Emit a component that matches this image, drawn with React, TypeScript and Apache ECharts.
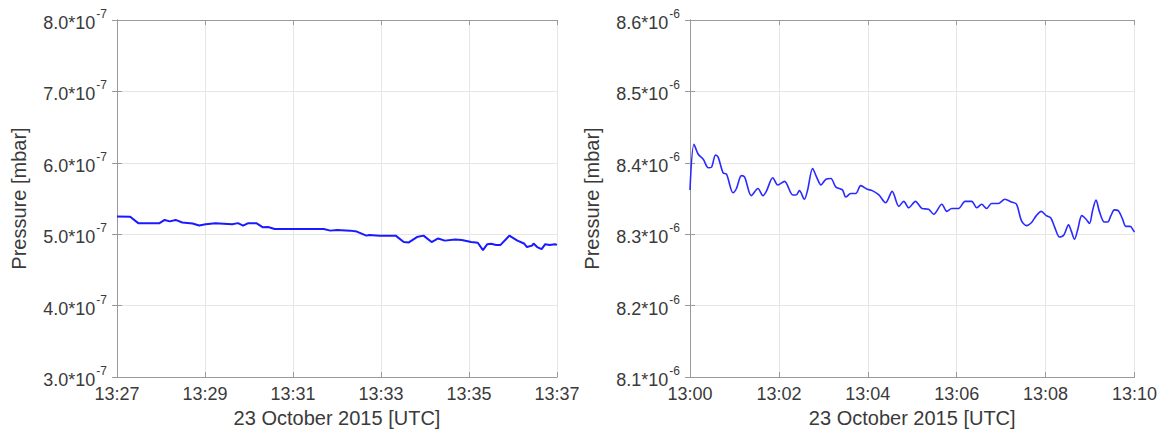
import React, { useEffect, useRef } from "react";
import * as echarts from "echarts";

// Left panel: seconds after 13:27 UTC, pressure in units of 1e-7 mbar
const leftSeconds = [0, 18, 29, 58, 65, 72, 80, 89, 103, 112, 121, 134, 157, 165, 172, 179, 190, 199, 206, 215, 237, 282, 291, 300, 318, 327, 340, 344, 358, 380, 391, 398, 409, 418, 429, 438, 447, 461, 470, 483, 492, 499, 505, 510, 517, 523, 535, 546, 555, 559, 566, 568, 573, 579, 584, 590, 597, 600];
const leftValues = [5.247, 5.245, 5.155, 5.155, 5.2, 5.18, 5.2, 5.164, 5.15, 5.123, 5.14, 5.155, 5.14, 5.155, 5.12, 5.155, 5.155, 5.096, 5.1, 5.073, 5.073, 5.073, 5.05, 5.06, 5.05, 5.037, 4.98, 4.99, 4.98, 4.98, 4.89, 4.885, 4.96, 4.98, 4.89, 4.94, 4.91, 4.925, 4.92, 4.89, 4.88, 4.777, 4.86, 4.865, 4.85, 4.85, 4.98, 4.91, 4.87, 4.82, 4.84, 4.87, 4.82, 4.79, 4.86, 4.85, 4.86, 4.85];

// Right panel: seconds after 13:00 UTC, pressure in units of 1e-6 mbar
const rightSeconds = [0, 5.4, 11.1, 17.9, 24.6, 29.1, 34.5, 38, 44.7, 49.3, 58.1, 62.7, 69.4, 73.8, 82.8, 91.7, 98.4, 103, 111.8, 118.5, 127.5, 138.7, 143.2, 147.7, 154.4, 158.8, 165.5, 170.9, 176.8, 183.5, 190.2, 196.9, 205.8, 210.3, 217, 223.8, 230.5, 239.3, 246, 255, 264, 272.9, 281.9, 288.6, 295.3, 304.3, 313.2, 322.1, 328.9, 340, 346.7, 353.4, 362.4, 371.4, 380.3, 387, 393.7, 400.4, 407.1, 416.1, 425.1, 434, 440.7, 447.4, 454.1, 460.8, 467.5, 474.2, 481, 486.9, 492.2, 498.9, 504.7, 511, 514.5, 519.1, 523.5, 528.9, 534.7, 539.2, 543.6, 548.1, 552.6, 559.3, 563.8, 568.2, 572.8, 578.1, 583.9, 588.3, 594.2, 598.7, 600];
const rightValues = [8.362, 8.426, 8.412, 8.405, 8.393, 8.394, 8.411, 8.408, 8.386, 8.384, 8.358, 8.364, 8.382, 8.38, 8.354, 8.364, 8.354, 8.36, 8.379, 8.369, 8.374, 8.355, 8.355, 8.361, 8.349, 8.362, 8.392, 8.38, 8.369, 8.377, 8.378, 8.366, 8.362, 8.352, 8.357, 8.357, 8.368, 8.363, 8.361, 8.355, 8.344, 8.36, 8.339, 8.346, 8.337, 8.346, 8.336, 8.335, 8.328, 8.342, 8.332, 8.336, 8.336, 8.346, 8.346, 8.337, 8.342, 8.336, 8.343, 8.343, 8.349, 8.345, 8.342, 8.319, 8.312, 8.316, 8.326, 8.332, 8.326, 8.323, 8.31, 8.296, 8.299, 8.313, 8.305, 8.293, 8.307, 8.326, 8.321, 8.315, 8.334, 8.348, 8.332, 8.317, 8.317, 8.326, 8.334, 8.333, 8.321, 8.311, 8.311, 8.305, 8.303];

const leftStartMinute = 13 * 60 + 27;
const rightStartMinute = 13 * 60 + 0;
const xAxisTitle = "23 October 2015 [UTC]";
const yAxisTitle = "Pressure [mbar]";

const FONT = "'Liberation Sans', Arial, sans-serif";
const TEXT = "#3a3a3a";
const AXIS = "#9a9a9a";

function fmtTime(base: number, sec: number) {
  const m = base + Math.round(sec / 60);
  const h = Math.floor(m / 60);
  const mm = m % 60;
  return `${h}:${mm < 10 ? "0" + mm : mm}`;
}

export default function App() {
  const ref = useRef<HTMLDivElement>(null);
  useEffect(() => {
    if (!ref.current) return;
    const chart = echarts.init(ref.current, null, { renderer: "svg" });
    const grids = [
      { left: 102, top: 5, width: 447, height: 365 },
      { left: 682, top: 5, width: 447, height: 365 },
    ];
    const rich = {
      a: { fontSize: 18, color: TEXT, fontFamily: FONT, lineHeight: 24, verticalAlign: "bottom" },
      s: { fontSize: 12, color: TEXT, fontFamily: FONT, verticalAlign: "top", lineHeight: 24, padding: [0, 0, 3, 1] },
    };
    const mkX = (gi: number, base: number) => ({
      type: "value",
      gridIndex: gi,
      min: 0,
      max: 600,
      interval: 120,
      name: xAxisTitle,
      nameLocation: "middle",
      nameGap: 31,
      nameTextStyle: { fontSize: 20, color: TEXT, fontFamily: FONT },
      axisLine: { show: true, lineStyle: { color: AXIS, width: 1 } },
      axisTick: { show: true, inside: true, length: 5, lineStyle: { color: AXIS } },
      axisLabel: { fontSize: 18, color: TEXT, fontFamily: FONT, margin: 8, formatter: (v: number) => fmtTime(base, v) },
      splitLine: { show: true, lineStyle: { color: "#e6e6e6", width: 1 } },
    });
    const mkXTop = (gi: number) => ({
      type: "value",
      gridIndex: gi,
      position: "top",
      min: 0,
      max: 600,
      interval: 120,
      axisLine: { show: true, lineStyle: { color: AXIS, width: 1 } },
      axisTick: { show: true, inside: true, length: 5, lineStyle: { color: AXIS } },
      axisLabel: { show: false },
      splitLine: { show: false },
    });
    const mkY = (gi: number, min: number, max: number, exp: string) => ({
      type: "value",
      gridIndex: gi,
      min,
      max,
      splitNumber: 5,
      name: yAxisTitle,
      nameLocation: "middle",
      nameGap: 88,
      nameTextStyle: { fontSize: 20, color: TEXT, fontFamily: FONT },
      axisLine: { show: true, lineStyle: { color: AXIS, width: 1 } },
      axisTick: { show: true, inside: true, length: 5, lineStyle: { color: AXIS } },
      axisLabel: {
        margin: 10,
        formatter: (v: number) => `{a|${v.toFixed(1)}*10}{s|${exp}}`,
        rich,
      },
      splitLine: { show: true, lineStyle: { color: "#e6e6e6", width: 1 } },
    });
    const mkYRight = (gi: number, min: number, max: number) => ({
      type: "value",
      gridIndex: gi,
      position: "right",
      min,
      max,
      splitNumber: 5,
      axisLine: { show: true, lineStyle: { color: AXIS, width: 1 } },
      axisTick: { show: true, inside: true, length: 5, lineStyle: { color: AXIS } },
      axisLabel: { show: false },
      splitLine: { show: false },
    });
    chart.setOption({
      animation: false,
      backgroundColor: "#ffffff",
      grid: grids,
      xAxis: [mkX(0, leftStartMinute), mkX(1, rightStartMinute), mkXTop(0), mkXTop(1)],
      yAxis: [mkY(0, 3, 8, "-7"), mkY(1, 8.1, 8.6, "-6"), mkYRight(0, 3, 8), mkYRight(1, 8.1, 8.6)],
      series: [
        {
          type: "line",
          xAxisIndex: 0,
          yAxisIndex: 0,
          data: leftSeconds.map((s, i) => [s, leftValues[i]]),
          showSymbol: false,
          lineStyle: { color: "#1a1aff", width: 2 },
        },
        {
          type: "line",
          xAxisIndex: 1,
          yAxisIndex: 1,
          data: rightSeconds.map((s, i) => [s, rightValues[i]]),
          showSymbol: false,
          smooth: 0.3,
          lineStyle: { color: "#2a2aff", width: 1.6 },
        },
      ],
    });
    return () => chart.dispose();
  }, []);
  return <div ref={ref} style={{ width: 1152, height: 425 }} />;
}
